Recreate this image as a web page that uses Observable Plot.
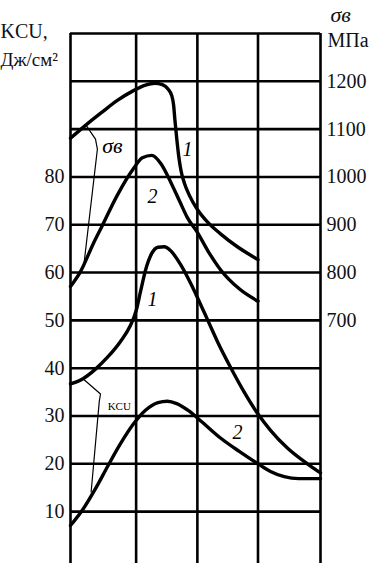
<!DOCTYPE html>
<html>
<head>
<meta charset="utf-8">
<script src="https://cdn.jsdelivr.net/npm/d3@7"></script>
<script src="https://cdn.jsdelivr.net/npm/@observablehq/plot@0.6"></script>
<style>
html, body { margin: 0; padding: 0; background: #fff; }
#chart svg { display: block; }
</style>
</head>
<body>
<div id="chart"></div>
<script>
// ---- grid / ticks ----
const columns = [0, 1.05, 2.03, 3, 4];
const kcuGrid = [10, 20, 30, 40, 50, 60, 70, 80, 90, 100, 110];
const kcuTicks = [10, 20, 30, 40, 50, 60, 70, 80];
const sigmaTicks = [700, 800, 900, 1000, 1100, 1200];

// ---- σв curve 1 (MPa) ----
const sigma1X = [0, 0.25, 0.5, 0.75, 1.0, 1.2, 1.35, 1.47, 1.56, 1.62, 1.65, 1.67, 1.7, 1.73, 1.77, 1.82, 1.9, 2.03, 2.19, 2.4, 2.67, 3.0];
const sigma1 = [1081, 1109, 1135, 1160, 1180, 1192, 1196, 1193, 1184, 1170, 1150, 1120, 1080, 1045, 1012, 988, 962, 932, 906, 881, 854, 827];

// ---- σв curve 2 (MPa) ----
const sigma2X = [0, 0.16, 0.37, 0.5, 0.75, 1.0, 1.15, 1.3, 1.45, 1.6, 1.75, 1.87, 2.03, 2.2, 2.4, 2.7, 3.0];
const sigma2 = [771, 802, 862, 896, 962, 1016, 1040, 1045, 1027, 990, 948, 915, 884, 845, 806, 766, 740];

// ---- KCU curve 1 (J/cm²) ----
const kcu1X = [0, 0.2, 0.4, 0.6, 0.8, 0.95, 1.05, 1.12, 1.2, 1.3, 1.4, 1.5, 1.6, 1.76, 1.92, 2.03, 2.19, 2.35, 2.56, 2.77, 3.0, 3.2, 3.47, 3.79, 4.0];
const kcu1 = [36.7, 37.8, 39.8, 42.4, 45.6, 48.7, 52, 56, 60.5, 64, 65.3, 65.4, 64.6, 61.7, 57.8, 54.8, 50.2, 45.6, 40.2, 35.2, 30.4, 27, 23.3, 20, 18.1];

// ---- KCU curve 2 (J/cm²) ----
const kcu2X = [0, 0.2, 0.4, 0.6, 0.8, 1.0, 1.2, 1.4, 1.55, 1.7, 1.9, 2.1, 2.4, 2.7, 3.0, 3.2, 3.42, 3.65, 4.0];
const kcu2 = [7.1, 10.5, 14.8, 19.6, 24.2, 28.2, 31.2, 32.8, 33.1, 32.6, 31, 28.8, 25.4, 22.6, 20, 18.4, 17.3, 16.9, 16.9];

// ---- curve labels ----
const labelText = ["1", "2", "1", "2"];
const labelX = [1.87, 1.31, 1.31, 2.67];
const labelY = [85.8, 75.8, 54.4, 26.5];

// ---- leader lines for group labels (x, KCU-units) ----
const sigmaLeaderX = [0.25, 0.4, 0.43, 0.22];
const sigmaLeaderY = [90.8, 87.9, 85.8, 62.3];
const kcuLeaderX = [0.2, 0.48, 0.46, 0.33];
const kcuLeaderY = [37.8, 34.6, 33.0, 14.1];

// σ (MPa) ↔ KCU axis relation: KCU 50 ↔ 700 MPa, KCU 100 ↔ 1200 MPa
const toKcu = s => (s - 200) / 10;
const toSigma = k => String(Math.round(k * 10 + 200));

const curves = [
  ...sigma1X.map((x, i) => ({series: "s1", x, y: toKcu(sigma1[i])})),
  ...sigma2X.map((x, i) => ({series: "s2", x, y: toKcu(sigma2[i])})),
  ...kcu1X.map((x, i) => ({series: "k1", x, y: kcu1[i]})),
  ...kcu2X.map((x, i) => ({series: "k2", x, y: kcu2[i]}))
];
const leaders = [
  ...sigmaLeaderX.map((x, i) => ({series: "s", x, y: sigmaLeaderY[i]})),
  ...kcuLeaderX.map((x, i) => ({series: "k", x, y: kcuLeaderY[i]}))
];
const labels = labelText.map((t, i) => ({text: t, x: labelX[i], y: labelY[i]}));

const font = "'Liberation Serif', 'DejaVu Serif', serif";

const chart = Plot.plot({
  width: 374,
  height: 563,
  marginLeft: 70,
  marginRight: 54,
  marginTop: 33,
  marginBottom: 0,
  style: {fontFamily: font, fontSize: "20px", background: "#fff", color: "#111"},
  x: {domain: [0, 4], axis: null},
  y: {domain: [-0.85, 110]},
  marks: [
    Plot.ruleY(kcuGrid, {stroke: "#000", strokeWidth: 2.6}),
    Plot.ruleX(columns, {stroke: "#000", strokeWidth: 2.6}),
    Plot.line(curves, {x: "x", y: "y", z: "series", curve: "monotone-x", stroke: "#000", strokeWidth: 3.4}),
    Plot.line(leaders, {x: "x", y: "y", z: "series", stroke: "#000", strokeWidth: 1.2}),
    Plot.text(labels, {x: "x", y: "y", text: "text", fontStyle: "italic", fontSize: 20, fill: "#000"}),
    Plot.text(["σв"], {x: 0.67, y: 86.5, fontStyle: "italic", fontSize: 22, fill: "#000"}),
    Plot.text(["KCU"], {x: 0.78, y: 31.9, fontSize: 11, fill: "#000"}),
    Plot.axisY(kcuTicks, {anchor: "left", tickSize: 0, tickPadding: 6, label: null, fontSize: 20, fill: "#111"}),
    Plot.axisY(sigmaTicks.map(toKcu), {anchor: "right", tickSize: 0, tickPadding: 6, label: null, tickFormat: toSigma, fontSize: 20, fill: "#111"}),
    Plot.text(["KCU,"], {frameAnchor: "top-left", dx: -70, dy: 4, textAnchor: "start", lineAnchor: "bottom", fontSize: 20, fill: "#111"}),
    Plot.text(["Дж/см²"], {frameAnchor: "top-left", dx: -70, dy: 32, textAnchor: "start", lineAnchor: "bottom", fontSize: 19, fill: "#111"}),
    Plot.text(["σв"], {frameAnchor: "top-right", dx: 10, dy: -12, textAnchor: "start", lineAnchor: "bottom", fontStyle: "italic", fontSize: 22, fill: "#111"}),
    Plot.text(["МПа"], {frameAnchor: "top-right", dx: 7, dy: 13, textAnchor: "start", lineAnchor: "bottom", fontSize: 20, fill: "#111"})
  ]
});
document.getElementById("chart").append(chart);
</script>
</body>
</html>
